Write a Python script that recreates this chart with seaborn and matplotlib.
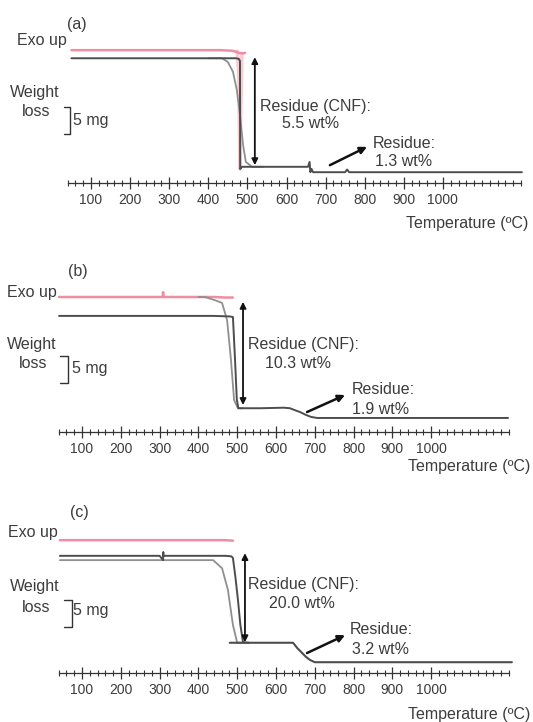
import matplotlib
matplotlib.use("Agg")
import matplotlib.pyplot as plt
import seaborn as sns

# ---------------- data: temperature (°C) vs. signal (mg, stacked offsets) ----------------
# panel (a)
a_dsc_t = [50, 300, 430, 460, 472, 477, 489, 494]
a_dsc_w = [24.6, 24.6, 24.6, 24.5, 24.3, 24.1, 24.0, 24.1]
a_peak_t = [474, 478, 480, 481, 483, 486]
a_peak_w = [24.4, 20.0, 8.0, 2.6, 14.0, 24.0]
a_tga_t = [50, 300, 440, 470, 478, 481, 481.5, 486, 495, 520, 600, 655, 659, 661, 664, 668, 750, 755, 760, 1000, 1202]
a_tga_w = [23.1, 23.1, 23.1, 23.1, 23.0, 22.6, 2.6, 3.0, 3.0, 3.0, 3.0, 3.0, 3.9, 2.0, 2.6, 2.0, 2.0, 2.5, 2.0, 2.0, 2.0]
a_tga2_t = [400, 435, 450, 463, 473, 481, 489, 496, 512, 540]
a_tga2_w = [23.1, 23.1, 22.4, 20.6, 17.2, 12.6, 7.0, 3.9, 3.0, 3.0]

# panel (b)
b_dsc_t = [41, 300, 308, 309, 310, 320, 440, 470, 489]
b_dsc_w = [25.0, 25.0, 25.0, 25.9, 25.0, 25.0, 25.0, 24.9, 24.9]
b_tga_t = [41, 300, 440, 480, 489, 494, 499, 503, 510, 560, 620, 636, 650, 662, 676, 690, 706, 800, 1000, 1198]
b_tga_w = [21.5, 21.5, 21.5, 21.4, 21.3, 14.0, 6.0, 4.4, 4.4, 4.4, 4.5, 4.4, 4.0, 3.7, 3.2, 2.8, 2.6, 2.6, 2.6, 2.6]
b_tga2_t = [400, 417, 443, 461, 474, 484, 492, 502, 515]
b_tga2_w = [25.0, 25.0, 24.4, 23.9, 20.7, 13.3, 5.9, 4.4, 4.4]

# panel (c)
c_dsc_t = [43, 300, 440, 470, 489]
c_dsc_w = [24.6, 24.6, 24.6, 24.6, 24.5]
c_tga_t = [43, 300, 309, 309.5, 310, 320, 470, 485, 489, 495, 502, 508, 515, 530]
c_tga_w = [21.7, 21.7, 20.9, 22.4, 21.7, 21.7, 21.7, 21.6, 21.3, 18.0, 13.5, 9.0, 5.7, 5.6]
c_tga2_t = [43, 300, 438, 461, 476, 489, 500, 520]
c_tga2_w = [20.9, 20.9, 20.9, 19.4, 15.4, 8.9, 5.6, 5.6]
c_res_t = [481, 520, 600, 644, 655, 666, 677, 688, 700, 800, 1000, 1208]
c_res_w = [5.6, 5.6, 5.6, 5.6, 4.6, 3.8, 3.0, 2.4, 2.0, 2.0, 2.0, 2.0]

tick_values = [100, 200, 300, 400, 500, 600, 700, 800, 900, 1000]
tick_labels = ["100", "200", "300", "400", "500", "600", "700", "800", "900", "1000"]
panel_tags = ["(a)", "(b)", "(c)"]
residue_cnf = ["5.5", "10.3", "20.0"]
residue_final = ["1.3", "1.9", "3.2"]

# ---------------- styling ----------------
sns.set_theme(style="white")
plt.rcParams["font.family"] = ["Liberation Sans", "DejaVu Sans"]
TXT = "#3c3c3c"
DARK = "#4d4d4d"
GREY = "#8f8f8f"
PINK = "#ee8ea2"

W, H = 533, 722
PPM = 5.4  # pixels per mg
fig = plt.figure(figsize=(W / 100, H / 100), dpi=100)
fig.patch.set_facecolor("white")

panels = [
    dict(band=(0, 240), axis=183, t0=91, ppd=0.391,
         dsc=(a_dsc_t, a_dsc_w), peak=(a_peak_t, a_peak_w),
         tga=(a_tga_t, a_tga_w), tga2=(a_tga2_t, a_tga2_w), res=None,
         tag=(67, 25), exo=(67, 41), weight=(35, 93), loss=(36, 111),
         bracket=(64, 70, 107), mg=(73, 120),
         varrow=(519, 23.3, 3.3), cnf1=(315, 107), cnf2=(311, 123),
         sarrow=((711, 3.3), (806, 6.7)), r1=(373, 144), r2=(375, 161),
         temp=(528, 223)),
    dict(band=(240, 480), axis=432, t0=82, ppd=0.388,
         dsc=(b_dsc_t, b_dsc_w), peak=None,
         tga=(b_tga_t, b_tga_w), tga2=(b_tga2_t, b_tga2_w), res=None,
         tag=(68, 272), exo=(57, 293), weight=(32, 345), loss=(33, 364),
         bracket=(60, 68, 356), mg=(72, 368),
         varrow=(515, 24.1, 5.0), cnf1=(304, 345), cnf2=(298, 363),
         sarrow=((680, 3.7), (778, 6.85)), r1=(352, 390), r2=(352, 409),
         temp=(530, 466)),
    dict(band=(480, 722), axis=673, t0=82, ppd=0.388,
         dsc=(c_dsc_t, c_dsc_w), peak=None,
         tga=(c_tga_t, c_tga_w), tga2=(c_tga2_t, c_tga2_w), res=(c_res_t, c_res_w),
         tag=(70, 512), exo=(58, 533), weight=(35, 587), loss=(36, 608),
         bracket=(64, 72, 600), mg=(73, 611),
         varrow=(520, 22.2, 5.7), cnf1=(304, 585), cnf2=(302, 603),
         sarrow=((680, 3.7), (778, 7.0)), r1=(350, 630), r2=(352, 650),
         temp=(530, 714)),
]


def ftext(x, y, s, **kw):
    kw.setdefault("fontsize", 11.5)
    kw.setdefault("color", TXT)
    kw.setdefault("va", "center")
    fig.text(x / W, 1 - y / H, s, **kw)


for i, p in enumerate(panels):
    top, bot = p["band"]
    ax = fig.add_axes([0, 1 - bot / H, 1, (bot - top) / H])
    ax.patch.set_alpha(0)
    t_of = lambda px, p=p: 100 + (px - p["t0"]) / p["ppd"]
    m_of = lambda py, p=p: (p["axis"] - py) / PPM
    ax.set_xlim(t_of(0), t_of(W))
    ax.set_ylim(m_of(bot), m_of(top))

    # traces
    sns.lineplot(x=p["dsc"][0], y=p["dsc"][1], ax=ax, color=PINK, lw=1.8,
                 sort=False, estimator=None)
    if p["peak"] is not None:
        sns.lineplot(x=p["peak"][0], y=p["peak"][1], ax=ax, color=PINK, lw=2.6,
                     alpha=0.45, sort=False, estimator=None)
    sns.lineplot(x=p["tga2"][0], y=p["tga2"][1], ax=ax, color=GREY, lw=1.3,
                 sort=False, estimator=None)
    sns.lineplot(x=p["tga"][0], y=p["tga"][1], ax=ax, color=DARK, lw=1.4,
                 sort=False, estimator=None)
    if p["res"] is not None:
        sns.lineplot(x=p["res"][0], y=p["res"][1], ax=ax, color=DARK, lw=1.5,
                     sort=False, estimator=None)

    # temperature axis drawn as a floating line with crossing ticks
    for s in ["left", "top", "right"]:
        ax.spines[s].set_visible(False)
    ax.spines["bottom"].set_position(("data", 0))
    ax.spines["bottom"].set_bounds(40, 1200)
    ax.spines["bottom"].set_color("#333333")
    ax.spines["bottom"].set_linewidth(0.9)
    ax.yaxis.set_visible(False)
    ax.set_xticks(tick_values)
    ax.set_xticklabels(tick_labels)
    ax.set_xticks([t for t in range(40, 1201, 20) if t not in tick_values], minor=True)
    ax.tick_params(axis="x", which="major", direction="inout", length=8, width=0.9,
                   color="#333333", labelsize=10, labelcolor=TXT, pad=3.5, bottom=True)
    ax.tick_params(axis="x", which="minor", direction="inout", length=5, width=0.8,
                   color="#333333", bottom=True)
    ax.set_xlabel("")
    ax.set_ylabel("")

    # 5 mg scale bracket
    bx0, bx1, by = p["bracket"]
    ytop = m_of(by)
    ax.plot([t_of(bx0), t_of(bx1), t_of(bx1), t_of(bx0)],
            [ytop, ytop, ytop - 5, ytop - 5], color="#333333", lw=1.0, clip_on=False)

    # residue arrows
    vx, vy0, vy1 = p["varrow"]
    ax.annotate("", xy=(vx, vy1), xytext=(vx, vy0),
                arrowprops=dict(arrowstyle="<|-|>", color="#111111", lw=1.3,
                                mutation_scale=9, shrinkA=0, shrinkB=0))
    (sx0, sy0), (sx1, sy1) = p["sarrow"]
    ax.annotate("", xy=(sx1, sy1), xytext=(sx0, sy0),
                arrowprops=dict(arrowstyle="-|>", color="#111111", lw=1.8,
                                mutation_scale=10, shrinkA=0, shrinkB=0))

    # labels
    ftext(*p["tag"], panel_tags[i], ha="left")
    ftext(*p["exo"], "Exo up", ha="right")
    ftext(*p["weight"], "Weight", ha="center")
    ftext(*p["loss"], "loss", ha="center")
    ftext(*p["mg"], "5 mg", ha="left")
    ftext(*p["cnf1"], "Residue (CNF):", ha="center")
    ftext(*p["cnf2"], f"{residue_cnf[i]} wt%", ha="center")
    ftext(*p["r1"], "Residue:", ha="left")
    ftext(*p["r2"], f"{residue_final[i]} wt%", ha="left")
    ftext(*p["temp"], "Temperature (ºC)", ha="right")

fig.savefig("out.png", dpi=100, facecolor="white")
